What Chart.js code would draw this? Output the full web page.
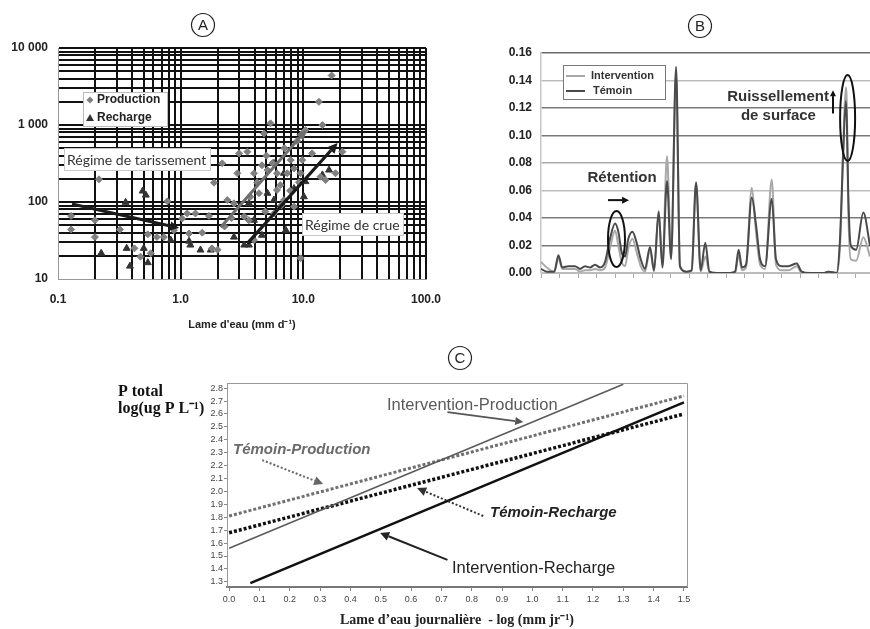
<!DOCTYPE html>
<html>
<head>
<meta charset="utf-8">
<script src="https://cdn.jsdelivr.net/npm/chart.js@4.4.0/dist/chart.umd.min.js"></script>
<style>
  body { margin: 0; background: #fff; width: 870px; height: 629px; position: relative; overflow: hidden; }
  canvas { position: absolute; }
  #chartA { left: 0; top: 0; }
  #chartB { left: 440px; top: 0; }
  #chartC { left: 0; top: 340px; }
</style>
</head>
<body>
<canvas id="chartA" width="460" height="340"></canvas>
<canvas id="chartB" width="430" height="340"></canvas>
<canvas id="chartC" width="870" height="289"></canvas>
<script>
// ---------- panel A : P vs lame d'eau (log-log) ----------
const prodX = [0.128, 0.128, 0.216, 0.2, 0.2, 0.32, 0.54, 0.78, 0.64, 1.03, 1.13, 1.32, 1.17, 1.7, 1.87, 2.18, 2.4, 2.28, 2.9, 3.0,
  3.5, 3.96, 4.77, 5.4, 5.1, 6.5, 6.95, 7.4, 8.4, 9.5, 10.4, 11.8, 13.4, 14.3, 17, 18.3, 15.2, 13.8, 20.8, 5.76,
  6.1, 4.35, 3.6, 9.5, 3.96, 3.7, 2.72, 1.8, 2.0, 0.42, 0.47, 0.57, 0.73, 0.88, 8.4, 9.8, 7.9, 6.1,
  4.2, 4.6, 5.0, 5.6, 7.0, 8.9, 10.0, 9.2, 6.6, 4.9, 3.3, 2.6, 7.8, 1.5];
const prodY = [66, 44, 197, 58, 35, 44, 38, 102, 35, 61, 71, 71, 39, 66, 178, 318, 106, 48, 236, 428,
  450, 236, 776, 1050, 260, 166, 106, 236, 273, 236, 860, 428, 2000, 1000, 4400, 236, 193, 213, 450, 71,
  143, 130, 58, 18.6, 32, 117, 96, 25, 24, 25, 19.5, 21.6, 35, 43, 87, 350, 350, 236,
  180, 300, 400, 320, 500, 620, 800, 180, 90, 75, 65, 62, 140, 40];
const rechX = [0.225, 0.356, 0.363, 0.386, 0.49, 0.52, 0.54, 0.5, 0.83, 1.17, 1.2, 1.45, 1.76, 2.72, 3.6,
  3.96, 4.6, 5.1, 5.76, 7.2, 8.4, 10.1, 10.4, 16.2, 14.3, 3.3, 6.95, 5.76, 3.6];
const rechY = [21.6, 99, 25, 14.7, 139, 123, 16.3, 25, 32, 31, 27.6, 23.8, 23.8, 35, 27.6,
  58, 37, 130, 106, 43, 150, 117, 184, 260, 225, 27.6, 236, 318, 96];
const trendTarissement = [[0.13, 94], [0.97, 46]];
const trendProduction = [[2.12, 47], [10.6, 860]];
const trendCrue = [[3.5, 29], [19, 583]];
const aXTickLabels = ['0.1', '1.0', '10.0', '100.0'];
const aYTickLabels = ['10', '100', '1 000', '10 000'];

// ---------- panel B : daily series ----------
const dayPos = [0, 0.31, 0.72, 0.94, 1.15, 1.48, 1.84, 2.11, 2.38, 2.65, 2.92, 3.19, 3.46, 3.73, 4.00, 4.18, 4.36, 4.54,
  4.72, 4.94, 5.17, 5.39, 5.62, 5.89, 6.11, 6.36, 6.56, 6.81, 7.03, 7.30, 7.51, 7.87, 8.14, 8.38, 8.63, 8.88, 9.10,
  9.50, 10.22, 10.49, 10.68, 10.86, 11.08, 11.39, 11.62, 11.84, 12.11, 12.47, 12.70, 13.01, 13.37, 13.82, 14.09,
  14.54, 15.26, 15.53, 15.98, 16.16, 16.34, 16.47, 16.53, 16.60, 16.74, 17.03, 17.42, 17.78];
const temoin = [0.003, 0.001, 0.001, 0.013, 0.004, 0.005, 0.005, 0.003, 0.005, 0.004, 0.006, 0.004, 0.008, 0.025, 0.036,
  0.030, 0.015, 0.012, 0.025, 0.030, 0.022, 0.010, 0.003, 0.019, 0.002, 0.045, 0.004, 0.067, 0.010, 0.150, 0.005,
  0.001, 0.002, 0.066, 0.002, 0.022, 0.001, 0.000, 0.000, 0.001, 0.017, 0.004, 0.006, 0.055, 0.035, 0.010, 0.005,
  0.054, 0.010, 0.005, 0.005, 0.007, 0.001, 0.000, 0.000, 0.001, 0.000, 0.025, 0.090, 0.125, 0.110, 0.060, 0.020,
  0.017, 0.044, 0.020];
const intervention = [0.008, 0.004, 0.001, 0.011, 0.003, 0.003, 0.003, 0.001, 0.002, 0.002, 0.003, 0.002, 0.004, 0.018,
  0.031, 0.020, 0.008, 0.005, 0.018, 0.025, 0.015, 0.005, 0.001, 0.017, 0.001, 0.044, 0.006, 0.085, 0.012, 0.145,
  0.004, 0.001, 0.001, 0.065, 0.001, 0.012, 0.001, 0.000, 0.000, 0.000, 0.013, 0.002, 0.004, 0.062, 0.030, 0.006,
  0.003, 0.068, 0.006, 0.002, 0.002, 0.005, 0.000, 0.000, 0.000, 0.001, 0.000, 0.020, 0.095, 0.135, 0.120, 0.050,
  0.010, 0.009, 0.026, 0.012];

// ---------- panel C : regression lines ----------
const ipX = [0, 1.3], ipY = [1.56, 2.83];     // Intervention-Production
const tpX = [0, 1.5], tpY = [1.81, 2.74];     // Témoin-Production
const trX = [0, 1.5], trY = [1.68, 2.60];     // Témoin-Recharge
const irX = [0.07, 1.5], irY = [1.29, 2.69];  // Intervention-Recharge
const cXTicks = [0, 0.1, 0.2, 0.3, 0.4, 0.5, 0.6, 0.7, 0.8, 0.9, 1.0, 1.1, 1.2, 1.3, 1.4, 1.5];
const cYTicks = [1.3, 1.4, 1.5, 1.6, 1.7, 1.8, 1.9, 2.0, 2.1, 2.2, 2.3, 2.4, 2.5, 2.6, 2.7, 2.8];

Chart.defaults.font.family = 'Liberation Sans, Arial, sans-serif';
Chart.defaults.animation = false;

function pairs(xs, ys) { return xs.map((x, i) => ({ x: x, y: ys[i] })); }

function logTicks(min, max) {
  const out = [];
  for (let d = Math.round(Math.log10(min)); d < Math.round(Math.log10(max)); d++) {
    for (let m = 1; m <= 9; m++) out.push(+(m * Math.pow(10, d)).toPrecision(6));
  }
  out.push(max);
  return out;
}

function decadeLabel(v, labels, firstExp) {
  const e = Math.log10(v);
  if (Math.abs(e - Math.round(e)) > 1e-6) return '';
  return labels[Math.round(e) - firstExp] || '';
}

function arrow(ctx, x1, y1, x2, y2, color, width, head, dash) {
  ctx.save();
  ctx.strokeStyle = color;
  ctx.fillStyle = color;
  ctx.lineWidth = width;
  const a = Math.atan2(y2 - y1, x2 - x1);
  const hx = x2 - head * Math.cos(a), hy = y2 - head * Math.sin(a);
  ctx.setLineDash(dash || []);
  ctx.beginPath();
  ctx.moveTo(x1, y1);
  ctx.lineTo(hx, hy);
  ctx.stroke();
  ctx.setLineDash([]);
  ctx.beginPath();
  ctx.moveTo(x2, y2);
  ctx.lineTo(hx - head * 0.5 * Math.sin(a), hy + head * 0.5 * Math.cos(a));
  ctx.lineTo(hx + head * 0.5 * Math.sin(a), hy - head * 0.5 * Math.cos(a));
  ctx.closePath();
  ctx.fill();
  ctx.restore();
}

function circled(ctx, letter, x, y) {
  ctx.save();
  ctx.strokeStyle = '#222';
  ctx.lineWidth = 1.2;
  ctx.beginPath();
  ctx.arc(x, y, 11.5, 0, Math.PI * 2);
  ctx.stroke();
  ctx.fillStyle = '#222';
  ctx.font = '15px Liberation Sans, Arial';
  ctx.textAlign = 'center';
  ctx.textBaseline = 'middle';
  ctx.fillText(letter, x, y + 1);
  ctx.restore();
}

function ellipse(ctx, cx, cy, rx, ry) {
  ctx.save();
  ctx.strokeStyle = '#111';
  ctx.lineWidth = 2;
  ctx.beginPath();
  ctx.ellipse(cx, cy, rx, ry, 0, 0, Math.PI * 2);
  ctx.stroke();
  ctx.restore();
}

function text(ctx, str, x, y, font, color, align) {
  ctx.save();
  ctx.font = font;
  ctx.fillStyle = color;
  ctx.textAlign = align || 'left';
  ctx.textBaseline = 'middle';
  ctx.fillText(str, x, y);
  ctx.restore();
}

function labelBox(ctx, str, x, y, w, h) {
  ctx.save();
  ctx.fillStyle = '#fff';
  ctx.fillRect(x, y, w, h);
  ctx.strokeStyle = '#c8c8c8';
  ctx.lineWidth = 1;
  ctx.strokeRect(x + 0.5, y + 0.5, w, h);
  ctx.restore();
  text(ctx, str, x + 3, y + h / 2 + 1, '14px Lato', '#333');
}

// ---------- A ----------
const annotA = {
  id: 'annotA',
  afterDatasetsDraw(chart) {
    const { ctx, scales: { x, y } } = chart;
    const p = pt => [x.getPixelForValue(pt[0]), y.getPixelForValue(pt[1])];
    let s = p(trendTarissement[0]), e = p(trendTarissement[1]);
    arrow(ctx, s[0], s[1], e[0], e[1], '#1a1a1a', 3, 9);
    s = p(trendProduction[0]); e = p(trendProduction[1]);
    arrow(ctx, s[0], s[1], e[0], e[1], '#6e6e6e', 3, 10);
    s = p(trendCrue[0]); e = p(trendCrue[1]);
    arrow(ctx, s[0], s[1], e[0], e[1], '#1a1a1a', 3.2, 10);

    labelBox(ctx, 'Régime de tarissement', 64, 148, 146, 22);
    labelBox(ctx, 'Régime de crue', 302, 213, 101, 22);

    // legend
    ctx.save();
    ctx.fillStyle = '#fff';
    ctx.fillRect(83, 92, 84, 34);
    ctx.strokeStyle = '#bbb';
    ctx.strokeRect(83.5, 92.5, 84, 34);
    ctx.fillStyle = '#808080';
    ctx.beginPath();
    ctx.moveTo(90, 96.5); ctx.lineTo(93.5, 100); ctx.lineTo(90, 103.5); ctx.lineTo(86.5, 100);
    ctx.closePath(); ctx.fill();
    ctx.fillStyle = '#333';
    ctx.beginPath();
    ctx.moveTo(90, 114); ctx.lineTo(94, 121); ctx.lineTo(86, 121);
    ctx.closePath(); ctx.fill();
    ctx.restore();
    text(ctx, 'Production', 97, 100, 'bold 12px Liberation Sans, Arial', '#222');
    text(ctx, 'Recharge', 97, 118, 'bold 12px Liberation Sans, Arial', '#222');

    circled(ctx, 'A', 203, 25);
  }
};

new Chart(document.getElementById('chartA'), {
  type: 'scatter',
  data: {
    datasets: [
      { label: 'Production', data: pairs(prodX, prodY), pointStyle: 'rectRot', radius: 3.5,
        backgroundColor: '#808080', borderColor: '#808080', borderWidth: 1 },
      { label: 'Recharge', data: pairs(rechX, rechY), pointStyle: 'triangle', radius: 4,
        backgroundColor: '#333', borderColor: '#333', borderWidth: 1 }
    ]
  },
  options: {
    responsive: false,
    devicePixelRatio: 1,
    layout: { padding: { left: 0, right: 34, top: 48, bottom: 0 } },
    plugins: { legend: { display: false }, tooltip: { enabled: false } },
    scales: {
      x: {
        type: 'logarithmic', min: 0.1, max: 100,
        afterBuildTicks: s => { s.ticks = logTicks(0.1, 100).map(v => ({ value: v })); },
        afterFit: s => { s.height = 61; },
        ticks: { autoSkip: false, maxRotation: 0, padding: 13, color: '#222',
          font: { weight: 'bold', size: 12 }, callback: v => decadeLabel(v, aXTickLabels, -1) },
        grid: { drawTicks: false, lineWidth: 2,
          color: c => (c.tick && c.tick.value === 0.1) ? 'rgba(0,0,0,0)' : '#111' },
        border: { color: '#999', width: 1 },
        title: { display: true, text: "Lame d'eau (mm d⁻¹)", color: '#222',
          font: { weight: 'bold', size: 11 }, padding: { top: 0, bottom: 8 } }
      },
      y: {
        type: 'logarithmic', min: 10, max: 10000,
        afterBuildTicks: s => { s.ticks = logTicks(10, 10000).map(v => ({ value: v })); },
        afterFit: s => { s.width = 58; },
        ticks: { autoSkip: false, padding: 10, color: '#222',
          font: { weight: 'bold', size: 12 }, callback: v => decadeLabel(v, aYTickLabels, 1) },
        grid: { drawTicks: false, lineWidth: 2,
          color: c => (c.tick && c.tick.value === 10) ? 'rgba(0,0,0,0)' : '#111' },
        border: { color: '#999', width: 1 }
      }
    }
  },
  plugins: [annotA]
});

// ---------- B ----------
const gridShadeB = ['#bdbdbd', '#7a7a7a', '#7a7a7a', '#bdbdbd', '#aaaaaa', '#7a7a7a', '#7a7a7a', '#bdbdbd', '#6a6a6a'];

const annotB = {
  id: 'annotB',
  afterDatasetsDraw(chart) {
    const { ctx, scales: { x, y } } = chart;
    // legend
    ctx.save();
    ctx.fillStyle = '#fff';
    ctx.fillRect(123, 65, 102, 34);
    ctx.strokeStyle = '#777';
    ctx.lineWidth = 1;
    ctx.strokeRect(123.5, 65.5, 102, 34);
    ctx.lineWidth = 2;
    ctx.strokeStyle = '#a8a8a8';
    ctx.beginPath(); ctx.moveTo(126, 76); ctx.lineTo(145, 76); ctx.stroke();
    ctx.strokeStyle = '#4a4a4a';
    ctx.beginPath(); ctx.moveTo(126, 91); ctx.lineTo(145, 91); ctx.stroke();
    ctx.restore();
    text(ctx, 'Intervention', 151, 76, 'bold 11px Liberation Sans, Arial', '#333');
    text(ctx, 'Témoin', 153, 91, 'bold 11px Liberation Sans, Arial', '#333');

    // rétention
    text(ctx, 'Rétention', x.getPixelForValue(4.38), y.getPixelForValue(0.069),
      'bold 15px Liberation Sans, Arial', '#333', 'center');
    arrow(ctx, x.getPixelForValue(3.62), y.getPixelForValue(0.053),
      x.getPixelForValue(4.76), y.getPixelForValue(0.053), '#111', 2, 7);
    ellipse(ctx, x.getPixelForValue(4.08), y.getPixelForValue(0.0247), 8.5, 28);

    // ruissellement
    text(ctx, 'Ruissellement', x.getPixelForValue(12.81), y.getPixelForValue(0.128),
      'bold 15px Liberation Sans, Arial', '#333', 'center');
    text(ctx, 'de surface', x.getPixelForValue(12.83), y.getPixelForValue(0.114),
      'bold 15px Liberation Sans, Arial', '#333', 'center');
    arrow(ctx, x.getPixelForValue(15.78), y.getPixelForValue(0.116),
      x.getPixelForValue(15.78), y.getPixelForValue(0.133), '#111', 2, 6);
    ellipse(ctx, x.getPixelForValue(16.57), y.getPixelForValue(0.1127), 7.5, 43);

    circled(ctx, 'B', 260, 26);
  }
};

new Chart(document.getElementById('chartB'), {
  type: 'line',
  data: {
    datasets: [
      { label: 'Témoin', data: pairs(dayPos, temoin), borderColor: '#4a4a4a', borderWidth: 2,
        pointRadius: 0, cubicInterpolationMode: 'monotone', order: 0 },
      { label: 'Intervention', data: pairs(dayPos, intervention), borderColor: '#a8a8a8', borderWidth: 2,
        pointRadius: 0, cubicInterpolationMode: 'monotone', order: 1 }
    ]
  },
  options: {
    responsive: false,
    devicePixelRatio: 1,
    layout: { padding: { left: 0, right: 0, top: 53, bottom: 0 } },
    plugins: { legend: { display: false }, tooltip: { enabled: false } },
    scales: {
      x: {
        type: 'linear', min: 0, max: 17.78,
        afterFit: s => { s.height = 67; },
        ticks: { stepSize: 1, includeBounds: false, display: false },
        grid: { drawOnChartArea: false, drawTicks: true, tickLength: 5, color: '#aaa' },
        border: { color: '#bbb' }
      },
      y: {
        min: 0, max: 0.16,
        afterFit: s => { s.width = 101; },
        ticks: { stepSize: 0.02, padding: 9, color: '#222', font: { weight: 'bold', size: 12 },
          callback: v => v.toFixed(2) },
        grid: { drawTicks: false, lineWidth: 1.5, color: c => gridShadeB[c.index] || '#999' },
        border: { color: '#c8c8c8', width: 1.5 }
      }
    }
  },
  plugins: [annotB]
});

// ---------- C ----------
const annotC = {
  id: 'annotC',
  afterDatasetsDraw(chart) {
    const { ctx, chartArea: a, scales: { x, y } } = chart;
    ctx.save();
    ctx.strokeStyle = '#999';
    ctx.lineWidth = 1;
    ctx.beginPath();
    ctx.moveTo(a.left, a.top + 0.5); ctx.lineTo(a.right + 0.5, a.top + 0.5); ctx.lineTo(a.right + 0.5, a.bottom);
    ctx.stroke();
    ctx.restore();
    const px = v => x.getPixelForValue(v), py = v => y.getPixelForValue(v);

    text(ctx, 'Intervention-Production', 387, 65, '16.5px Liberation Sans, Arial', '#5a5a5a');
    arrow(ctx, px(0.72), py(2.614), px(0.97), py(2.537), '#555', 1.8, 8);

    text(ctx, 'Témoin-Production', 233, 110, 'italic bold 15px Liberation Sans, Arial', '#6a6a6a');
    arrow(ctx, px(0.109), py(2.243), px(0.31), py(2.057), '#666', 2, 9, [2, 2]);

    text(ctx, 'Témoin-Recharge', 490, 173, 'italic bold 15px Liberation Sans, Arial', '#222');
    arrow(ctx, px(0.838), py(1.81), px(0.62), py(2.026), '#333', 2, 9, [2, 2]);

    text(ctx, 'Intervention-Recharge', 452, 228, '16.5px Liberation Sans, Arial', '#222');
    arrow(ctx, px(0.72), py(1.47), px(0.498), py(1.679), '#222', 2, 9);

    text(ctx, 'P total', 118, 52, 'bold 16px Liberation Serif, Times New Roman', '#111');
    text(ctx, 'log(ug P L⁻¹)', 118, 69, 'bold 16px Liberation Serif, Times New Roman', '#111');

    circled(ctx, 'C', 460, 18);
  }
};

new Chart(document.getElementById('chartC'), {
  type: 'line',
  data: {
    datasets: [
      { label: 'Intervention-Production', data: pairs(ipX, ipY), borderColor: '#5a5a5a', borderWidth: 1.5, pointRadius: 0 },
      { label: 'Témoin-Production', data: pairs(tpX, tpY), borderColor: '#707070', borderWidth: 3,
        borderDash: [3, 2], pointRadius: 0 },
      { label: 'Témoin-Recharge', data: pairs(trX, trY), borderColor: '#111', borderWidth: 3.5,
        borderDash: [3, 2], pointRadius: 0 },
      { label: 'Intervention-Recharge', data: pairs(irX, irY), borderColor: '#111', borderWidth: 2.5, pointRadius: 0 }
    ]
  },
  options: {
    responsive: false,
    devicePixelRatio: 1,
    layout: { padding: { left: 0, right: 183, top: 43, bottom: 0 } },
    plugins: { legend: { display: false }, tooltip: { enabled: false } },
    scales: {
      x: {
        type: 'linear', min: -0.007, max: 1.51,
        afterBuildTicks: s => { s.ticks = cXTicks.map(v => ({ value: v })); },
        afterFit: s => { s.height = 42; },
        ticks: { autoSkip: false, maxRotation: 0, padding: 3, color: '#444', font: { size: 9 },
          callback: v => v.toFixed(1) },
        grid: { drawOnChartArea: false, tickLength: 4, color: '#888' },
        border: { color: '#777', width: 2, dash: [1, 3] },
        title: { display: true, text: "Lame d’eau journalière  - log (mm jr⁻¹)", color: '#222',
          font: { family: 'Liberation Serif, Times New Roman', weight: 'bold', size: 14 },
          padding: { top: 0, bottom: 0 } }
      },
      y: {
        min: 1.26, max: 2.84,
        afterBuildTicks: s => { s.ticks = cYTicks.map(v => ({ value: v })); },
        afterFit: s => { s.width = 227; },
        ticks: { autoSkip: false, padding: 1, color: '#444', font: { size: 9 },
          callback: v => v.toFixed(1) },
        grid: { drawOnChartArea: false, tickLength: 3, color: '#888' },
        border: { color: '#999', width: 1 }
      }
    }
  },
  plugins: [annotC]
});
</script>
</body>
</html>
